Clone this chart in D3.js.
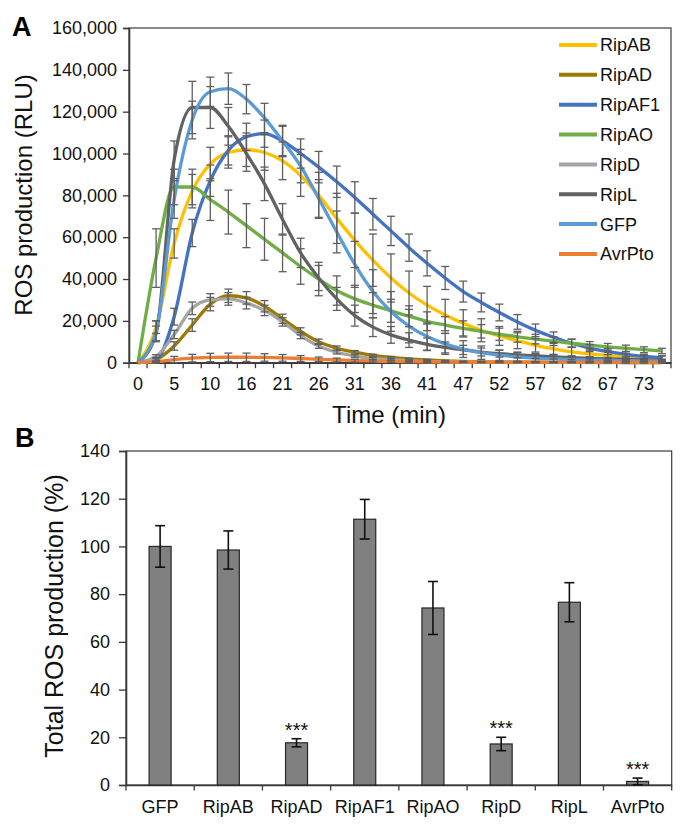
<!DOCTYPE html>
<html><head><meta charset="utf-8">
<script src="https://cdn.jsdelivr.net/npm/d3@7"></script>
<style>body{margin:0;background:#fff}svg{display:block;font-family:"Liberation Sans",Arial,sans-serif}</style>
</head><body><svg id="c" width="685" height="829"></svg>
<script>
// ---------- Panel A data ----------
const timeLabels = [0,3,5,8,10,13,16,18,21,23,26,28,31,34,36,39,41,44,47,49,52,54,57,60,62,65,67,70,73,75];
const seriesNames = ["RipAB","RipAD","RipAF1","RipAO","RipD","RipL","GFP","AvrPto"];
const seriesColors = ["#FFC000","#9C7A06","#4472C4","#70AD47","#A5A5A5","#626262","#5B9BD5","#ED7D31"];
const ripAB  = [0,17000,57000,82000,95000,100500,101800,100500,96500,89500,80000,69000,58500,49000,40500,33300,27500,22800,18800,15500,12800,10500,8300,6600,5200,4200,3500,2900,2500,2200];
const ripAD  = [0,1500,8000,18000,28000,32000,31000,27000,21000,15000,10000,7000,5000,3500,2500,1800,1300,900,600,450,350,300,250,200,200,150,150,100,100,100];
const ripAF1 = [0,1500,22000,62000,87000,101500,108000,109500,106000,100000,93500,86500,79000,71000,63000,55000,47500,40500,34000,28800,24000,19500,15500,12200,9300,7000,5300,4000,3000,2400];
const ripAO  = [0,50000,84000,84000,78000,72000,65500,59000,52500,46000,40000,34500,30500,27500,24800,22200,19800,18000,16400,15000,13600,12400,11300,10300,9300,8400,7600,6900,6200,5600];
const ripD   = [0,3000,13500,26000,30000,30500,28500,25000,19500,13000,8000,5000,3200,2100,1400,900,600,450,350,300,250,200,200,150,150,100,100,100,100,100];
const ripL   = [0,14000,97000,122000,122000,113000,100000,85500,68500,52500,40500,30500,22500,17000,13300,10800,8800,7300,6100,5100,4300,3700,3200,2800,2400,2100,1800,1600,1400,1200];
const gfp    = [0,15000,78000,116000,129500,131000,126000,117000,106000,94000,78500,62500,47000,34000,24500,17500,12500,9000,6500,4800,3600,2800,2200,1800,1500,1300,1100,1000,900,800];
const avrPto = [0,500,1500,2200,2500,2600,2600,2500,2300,2000,1600,1300,1000,800,600,500,400,300,300,200,200,200,200,200,200,200,200,200,200,200];
const errAB  = [0,3000,7000,8000,8000,7500,8000,8500,9000,10000,11000,12000,13000,12500,11500,10500,9000,7500,6500,5500,4500,3800,3200,2600,2200,1800,1500,1300,1100,1000];
const errAD  = [0,800,2000,3000,3200,3200,3000,2700,2200,1700,1300,1000,800,600,500,400,300,250,200,200,150,150,100,100,100,100,100,100,100,100];
const errAF1 = [0,1000,4000,6500,7500,7000,6500,6500,7000,7000,7500,7500,7500,7500,7000,6500,6000,5500,5000,4500,4000,3500,3000,2500,2000,1700,1400,1200,1000,900];
const errAO  = [0,14000,8500,8500,10000,10500,10500,10000,9000,8500,8000,7000,6500,6000,5500,5000,4500,4000,3600,3200,2900,2600,2300,2100,1900,1700,1600,1500,1400,1300];
const errD   = [0,800,2000,3000,3000,3000,2800,2500,2000,1500,1100,800,600,500,400,300,250,200,200,150,150,100,100,100,100,100,100,100,100,100];
const errL   = [0,3500,9000,12500,10000,9000,8500,8000,7500,7000,6000,5500,5000,4500,4000,3500,3000,2600,2200,1900,1600,1400,1200,1000,900,800,700,600,500,500];
const errGFP = [0,5000,9000,9000,7000,7500,7000,7000,7500,8000,9000,10000,11000,10500,9500,8000,6500,5000,4000,3200,2500,2000,1600,1300,1100,900,800,700,600,500];
const errAvr = [0,500,1500,1800,2000,2000,2000,1800,1600,1400,1100,900,700,500,400,300,300,200,200,200,200,200,200,200,200,200,200,200,200,200];
const yTicksA = [0,20000,40000,60000,80000,100000,120000,140000,160000];

// ---------- Panel B data ----------
const barCats = ["GFP","RipAB","RipAD","RipAF1","RipAO","RipD","RipL","AvrPto"];
const barVals = [100,98.5,17.7,111.4,74.2,17.2,76.6,1.5];
const barErr  = [8.7,8,1.7,8.3,11.1,2.8,8.2,1.4];
const barSig  = ["","","***","","","***","","***"];
const yTicksB = [0,20,40,60,80,100,120,140];

const seriesVals = [ripAB,ripAD,ripAF1,ripAO,ripD,ripL,gfp,avrPto];
const seriesErrs = [errAB,errAD,errAF1,errAO,errD,errL,errGFP,errAvr];

const svg = d3.select("#c");
const axisCol = "#3a3a3a";

// ================= Panel A =================
const xA = d3.scaleBand().domain(d3.range(timeLabels.length)).range([129,671]).padding(0);
const yA = d3.scaleLinear().domain([0,160000]).range([362.7,28]);
const gA = svg.append("g");

gA.append("rect").attr("x",129).attr("y",yA(160000)).attr("width",671-129).attr("height",yA(0)-yA(160000))
  .attr("fill","none").attr("stroke",axisCol).attr("stroke-width",1.2);

const yAxA = gA.append("g").attr("transform","translate(129,0)")
  .call(d3.axisLeft(yA).tickValues(yTicksA).tickFormat(d3.format(",")).tickSize(6).tickPadding(6));
yAxA.selectAll("text").attr("font-size",18).attr("fill","#111");
yAxA.select(".domain").attr("stroke",axisCol).attr("stroke-width",1.6);
yAxA.selectAll(".tick line").attr("stroke",axisCol).attr("stroke-width",1.3);

const xAxA = gA.append("g").attr("transform",`translate(0,${yA(0)})`)
  .call(d3.axisBottom(xA).tickSize(0).tickPadding(14.5).tickFormat(i => i%2===0 ? timeLabels[i] : ""));
xAxA.selectAll("text").attr("font-size",18).attr("fill","#111");
xAxA.select(".domain").attr("stroke",axisCol).attr("stroke-width",1.6);
gA.append("g").selectAll("line").data(d3.range(timeLabels.length+1)).join("line")
  .attr("x1",i => i<timeLabels.length ? xA(i) : xA(timeLabels.length-1)+xA.bandwidth())
  .attr("x2",i => i<timeLabels.length ? xA(i) : xA(timeLabels.length-1)+xA.bandwidth())
  .attr("y1",yA(0)).attr("y2",yA(0)+5.5).attr("stroke",axisCol).attr("stroke-width",1.3);

const line = d3.line().x((d,i)=>xA(i)+xA.bandwidth()/2).y(d=>yA(d)).curve(d3.curveMonotoneX);
seriesVals.forEach((vals,k)=>{
  gA.append("path").datum(vals).attr("d",line).attr("fill","none")
    .attr("stroke",seriesColors[k]).attr("stroke-width",3.3).attr("stroke-linejoin","round");
});
const eb = gA.append("g").attr("stroke","#5f5f5f").attr("stroke-width",1.3).attr("fill","none");
seriesVals.forEach((vals,k)=>{
  vals.forEach((v,i)=>{
    const e = seriesErrs[k][i];
    if(!e) return;
    const cx = xA(i)+xA.bandwidth()/2;
    const t = yA(v+e), b = yA(Math.max(0,v-e));
    eb.append("line").attr("x1",cx).attr("x2",cx).attr("y1",t).attr("y2",b);
    eb.append("line").attr("x1",cx-4).attr("x2",cx+4).attr("y1",t).attr("y2",t);
    eb.append("line").attr("x1",cx-4).attr("x2",cx+4).attr("y1",b).attr("y2",b);
  });
});

const lg = gA.append("g");
seriesNames.forEach((n,k)=>{
  const yy = 45 + k*29.85;
  lg.append("line").attr("x1",559).attr("x2",597).attr("y1",yy).attr("y2",yy)
    .attr("stroke",seriesColors[k]).attr("stroke-width",4);
  lg.append("text").attr("x",600).attr("y",yy).attr("dy","0.36em").attr("font-size",18).attr("fill","#111").text(n);
});

gA.append("text").attr("transform","translate(32,195) rotate(-90)").attr("text-anchor","middle")
  .attr("font-size",24).attr("fill","#111").text("ROS production (RLU)");
gA.append("text").attr("x",389).attr("y",422.7).attr("text-anchor","middle")
  .attr("font-size",24).attr("fill","#111").text("Time (min)");
svg.append("text").attr("x",12).attr("y",36).attr("font-size",27).attr("font-weight","bold").text("A");

// ================= Panel B =================
const xB = d3.scaleBand().domain(barCats).range([126,671.7]).padding(0);
const yB = d3.scaleLinear().domain([0,140]).range([785,451]);
const gB = svg.append("g");

gB.append("rect").attr("x",126).attr("y",yB(140)).attr("width",671.7-126).attr("height",yB(0)-yB(140))
  .attr("fill","none").attr("stroke",axisCol).attr("stroke-width",1.2);

const yAxB = gB.append("g").attr("transform","translate(126,0)")
  .call(d3.axisLeft(yB).tickValues(yTicksB).tickSize(7).tickPadding(9));
yAxB.selectAll("text").attr("font-size",18).attr("fill","#111");
yAxB.select(".domain").attr("stroke",axisCol).attr("stroke-width",1.6);
yAxB.selectAll(".tick line").attr("stroke",axisCol).attr("stroke-width",1.3);

const xAxB = gB.append("g").attr("transform",`translate(0,${yB(0)})`)
  .call(d3.axisBottom(xB).tickSize(0).tickPadding(15.2));
xAxB.selectAll("text").attr("font-size",18).attr("fill","#111");
xAxB.select(".domain").attr("stroke",axisCol).attr("stroke-width",1.6);
gB.append("g").selectAll("line").data(d3.range(barCats.length+1)).join("line")
  .attr("x1",i => i<barCats.length ? xB(barCats[i]) : xB(barCats[barCats.length-1])+xB.bandwidth())
  .attr("x2",i => i<barCats.length ? xB(barCats[i]) : xB(barCats[barCats.length-1])+xB.bandwidth())
  .attr("y1",yB(0)).attr("y2",yB(0)+5.5).attr("stroke",axisCol).attr("stroke-width",1.3);

const bw = 22;
barCats.forEach((c,i)=>{
  const cx = xB(c)+xB.bandwidth()/2;
  gB.append("rect").attr("x",cx-bw/2).attr("y",yB(barVals[i])).attr("width",bw).attr("height",yB(0)-yB(barVals[i]))
    .attr("fill","#808080").attr("stroke","#262626").attr("stroke-width",1.2);
  const t = yB(barVals[i]+barErr[i]), b = yB(Math.max(0,barVals[i]-barErr[i]));
  const e = gB.append("g").attr("stroke","#111").attr("stroke-width",1.6);
  e.append("line").attr("x1",cx).attr("x2",cx).attr("y1",t).attr("y2",b);
  e.append("line").attr("x1",cx-5).attr("x2",cx+5).attr("y1",t).attr("y2",t);
  e.append("line").attr("x1",cx-5).attr("x2",cx+5).attr("y1",b).attr("y2",b);
  if(barSig[i]) gB.append("text").attr("x",cx).attr("y",t-2).attr("text-anchor","middle")
    .attr("font-size",20).attr("fill","#111").text(barSig[i]);
});

gB.append("text").attr("transform","translate(63,616) rotate(-90)").attr("text-anchor","middle")
  .attr("font-size",25).attr("fill","#111").text("Total ROS production (%)");
svg.append("text").attr("x",15).attr("y",447).attr("font-size",27).attr("font-weight","bold").text("B");
</script></body></html>
